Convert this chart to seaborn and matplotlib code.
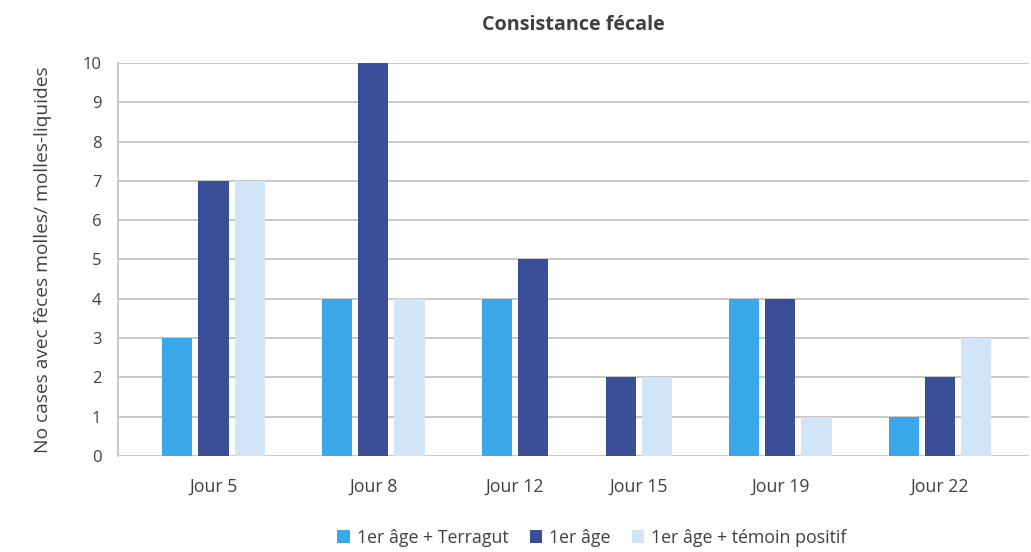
import numpy as np
import pandas as pd
import matplotlib
matplotlib.use("Agg")
import matplotlib.pyplot as plt
import seaborn as sns

categories = ["Jour 5", "Jour 8", "Jour 12", "Jour 15", "Jour 19", "Jour 22"]
series = ["1er âge + Terragut", "1er âge", "1er âge + témoin positif"]
terragut = [3, 4, 4, 0, 4, 1]
premier_age = [7, 10, 5, 2, 4, 2]
temoin = [7, 4, 0, 2, 1, 3]
yticks = list(range(0, 11))
colors = ["#38A8E8", "#3A4E98", "#D2E5F7"]

values = [terragut, premier_age, temoin]

# layout: zero-valued bars are omitted and remaining bars are centred in their slot
GAP = 1.42
rows = []
centers = []
start = 0.0
for i, cat in enumerate(categories):
    present = [(s, v[i]) for s, v in zip(series, values) if v[i] > 0]
    n = len(present)
    slot = n + GAP
    c = start + slot / 2
    centers.append(c)
    for j, (s, val) in enumerate(present):
        rows.append(dict(pos=round(c + (j - (n - 1) / 2), 6), series=s, value=val))
    start += slot
df = pd.DataFrame(rows)

sns.set_theme(style="white")
plt.rcParams['font.family'] = ['Open Sans', 'DejaVu Sans']

fig = plt.figure(figsize=(10.31, 5.52), dpi=100)
ax = fig.add_axes([0.1145, 0.174, 0.884, 0.712])

sns.barplot(data=df, x="pos", y="value", hue="series", hue_order=series,
            palette=colors, native_scale=True, dodge=False, width=30 / 36,
            saturation=1, linewidth=0, ax=ax)

ax.set_xlim(-0.43, start + 0.26)
ax.set_ylim(0, 10)
ax.set_yticks(yticks)
ax.set_yticklabels([str(t) for t in yticks], fontsize=12, color="#404040")
ax.set_xticks(centers)
ax.set_xticklabels(categories, fontsize=12.8, color="#404040")
ax.tick_params(axis="x", length=0, pad=16)
ax.tick_params(axis="y", length=0, pad=12)
ax.set_xlabel("")
ax.set_ylabel("No cases avec fèces molles/ molles-liquides", fontsize=13.8,
              color="#404040", labelpad=22)
ax.set_title("Consistance fécale", fontsize=14.2, fontweight="bold",
             color="#404040", pad=24)

ax.yaxis.grid(True, color="#C4C4C4", linewidth=1.3)
ax.xaxis.grid(False)
ax.set_axisbelow(True)
for side in ["top", "right", "bottom"]:
    ax.spines[side].set_visible(False)
ax.spines["left"].set_color("#C4C4C4")
ax.spines["left"].set_linewidth(1.3)

sns.move_legend(ax, "lower center", bbox_to_anchor=(0.52, -0.272), ncol=3,
                frameon=False, title=None, fontsize=12.8, handlelength=0.7,
                handleheight=0.7, handletextpad=0.4, columnspacing=1.2)
for t in ax.get_legend().get_texts():
    t.set_color("#404040")

fig.savefig("out.png", dpi=100)
